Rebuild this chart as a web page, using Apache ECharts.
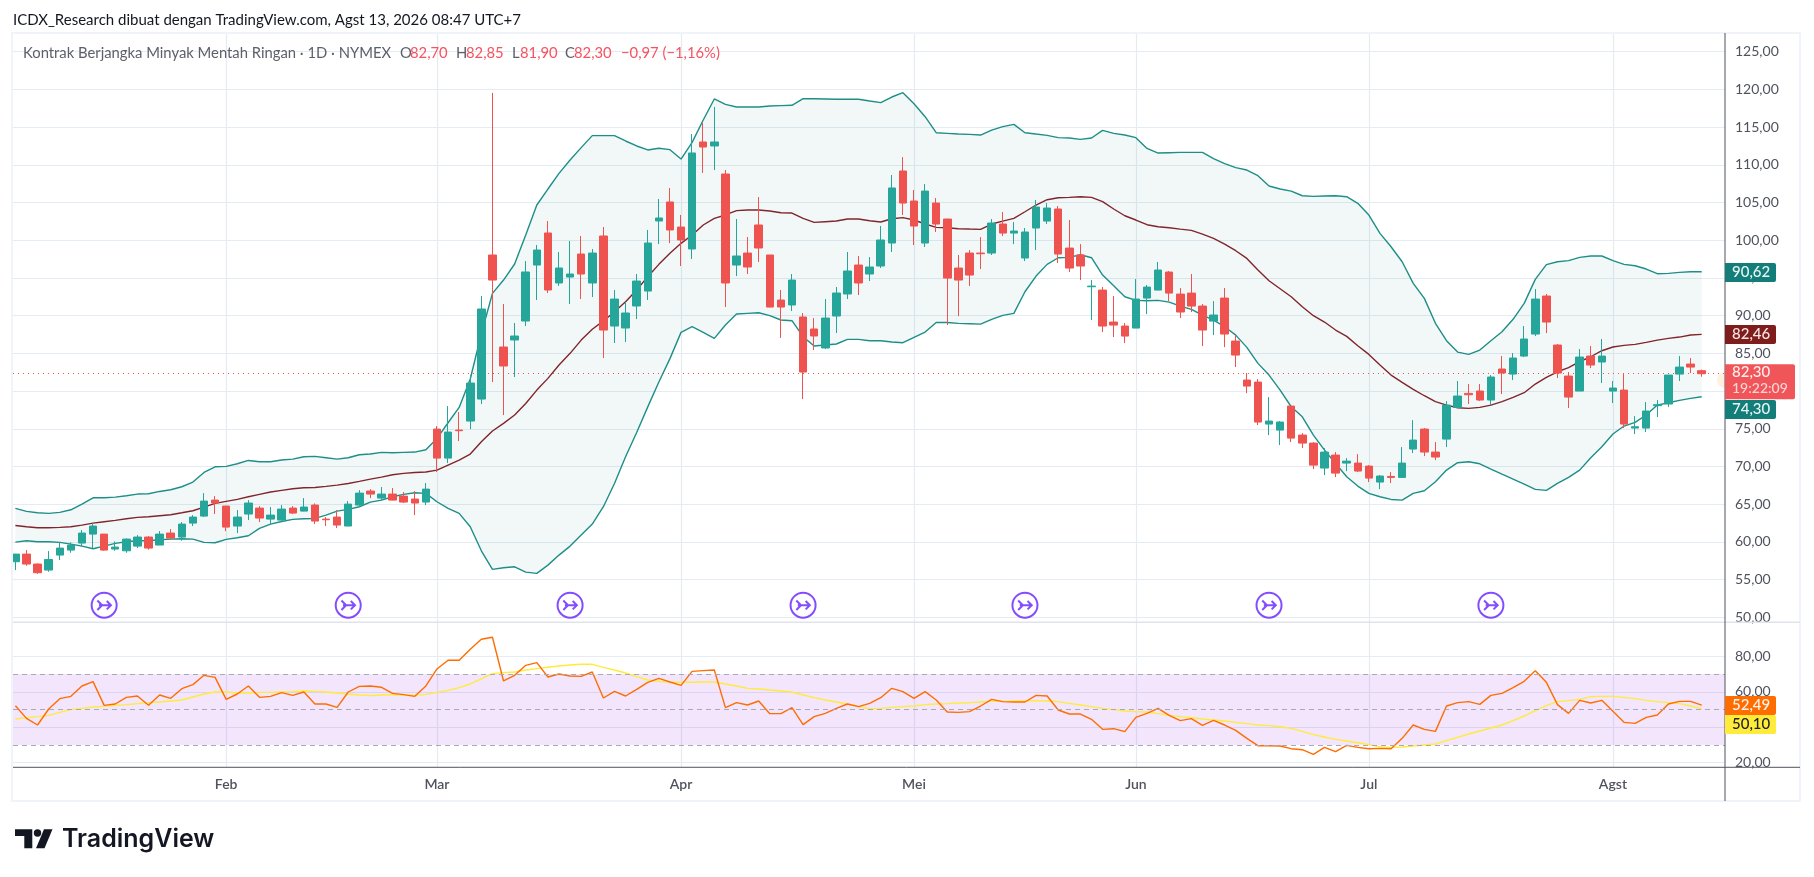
<!DOCTYPE html>
<html><head><meta charset="utf-8"><title>Kontrak Berjangka Minyak Mentah Ringan</title>
<script src="https://cdn.jsdelivr.net/npm/echarts@6/dist/echarts.min.js"></script>
<style>html,body{margin:0;padding:0;background:#fff}#c{width:1814px;height:877px}</style></head>
<body><div id="c"></div>
<script>
const opens=[57.37,58.38,57.06,56.26,58.25,58.91,59.84,61.03,61.03,59.05,
58.82,59.44,60.64,59.58,61.17,60.64,62.49,63.42,65.54,64.75,
62.10,63.69,64.48,63.02,62.89,64.48,64.08,64.88,63.02,63.29,
62.10,64.88,66.74,65.81,66.34,66.07,65.68,65.28,74.96,71.11,
74.83,76.02,78.94,98.04,85.84,86.77,89.29,96.71,100.96,94.33,
95.12,98.17,94.33,100.56,88.62,88.36,91.28,93.26,102.55,105.07,
101.75,98.84,113.03,112.50,108.78,96.71,98.30,102.02,98.04,92.07,
91.41,89.82,88.23,85.71,89.95,92.87,96.71,95.52,96.58,99.63,
109.18,105.20,99.63,104.93,102.81,96.31,98.30,98.30,98.30,102.15,
100.95,97.64,101.62,102.54,104.14,98.96,98.04,93.83,93.39,89.15,
88.62,88.35,92.33,93.39,95.78,92.86,92.99,91.27,89.28,92.33,
86.63,81.46,81.19,75.62,74.82,78.01,74.16,73.10,69.79,71.51,
70.45,70.45,70.05,67.93,68.68,68.55,72.31,74.96,71.91,73.63,
77.83,79.69,80.00,78.81,82.92,82.25,84.64,87.56,92.60,86.10,
81.99,80.00,84.64,83.85,80.00,80.13,75.09,75.09,78.06,78.28,
82.25,83.58,82.70];
const highs=[58.38,58.91,57.14,58.78,59.89,59.93,61.57,62.45,61.05,60.06,
60.46,60.90,60.77,61.43,61.70,62.63,63.55,66.47,66.07,64.78,
64.22,65.54,64.75,64.62,64.88,64.75,65.81,65.10,63.29,64.22,
65.41,66.87,67.00,67.27,67.14,66.61,66.74,67.80,75.36,78.01,
77.22,82.13,92.60,119.53,91.54,89.02,97.24,99.37,102.55,98.44,
99.90,100.56,98.84,101.75,93.40,91.81,95.52,101.36,105.47,106.93,
103.35,114.09,115.55,117.67,109.31,102.81,100.43,105.73,98.04,93.40,
95.52,90.35,89.68,92.20,93.80,98.44,97.91,97.77,101.89,108.65,
111.03,106.66,107.45,105.59,102.85,98.04,98.70,100.42,102.81,103.74,
102.41,101.62,105.33,104.93,104.53,102.68,99.49,94.72,93.79,92.60,
89.02,94.85,94.06,97.11,95.91,93.66,95.52,91.54,91.93,93.66,
87.42,82.39,81.59,79.20,76.02,78.01,74.43,73.23,72.44,71.91,
71.11,71.64,70.18,68.86,69.26,72.57,76.15,75.09,73.24,78.67,
81.33,80.93,80.93,82.12,84.64,85.04,88.62,93.53,92.87,86.23,
82.52,85.57,85.97,86.90,81.33,82.39,76.68,78.54,78.81,82.12,
84.64,84.38,82.85];
const lows=[56.26,56.83,55.77,56.04,57.59,58.56,59.44,59.13,58.82,58.82,
58.56,59.18,58.96,59.58,60.37,60.15,62.10,63.29,63.69,61.43,
61.17,62.89,62.63,62.36,62.63,63.69,64.05,62.36,62.10,61.83,
62.10,64.62,65.81,65.54,65.50,65.15,63.55,64.88,69.26,70.45,
73.37,74.96,78.28,81.20,76.82,81.86,88.62,92.07,93.00,93.93,
91.54,92.20,92.47,84.38,86.37,86.50,89.55,92.07,99.50,99.63,
96.58,97.51,108.92,109.31,91.14,95.25,95.52,97.11,91.14,87.03,
90.61,78.94,85.44,85.57,87.70,92.20,92.73,94.59,96.32,98.44,
103.34,99.36,99.10,101.09,88.75,89.94,93.92,96.18,98.04,100.55,
99.49,97.24,98.70,102.15,96.97,95.78,94.72,89.41,87.82,87.16,
86.36,88.35,90.21,93.39,91.93,89.68,90.48,85.97,87.42,85.83,
83.18,79.73,75.49,74.16,72.84,73.23,72.44,69.65,68.86,68.59,
69.39,69.25,67.93,67.00,67.80,68.55,71.78,71.38,70.85,72.57,
77.83,78.28,78.67,78.14,79.60,81.46,84.51,87.29,87.69,81.72,
77.75,80.00,83.05,81.06,78.41,75.09,74.30,74.56,76.55,77.88,
81.33,82.39,81.90];
const closes=[58.38,57.06,55.91,57.67,59.18,59.58,61.17,62.10,58.91,59.31,
60.37,60.64,59.18,61.03,60.50,62.36,63.29,65.41,65.15,61.96,
63.29,65.15,63.16,63.55,64.35,63.82,64.62,62.76,62.94,62.23,
65.01,66.47,66.34,66.34,65.54,65.28,65.15,67.00,71.11,74.56,
74.74,81.06,90.88,94.72,83.32,87.30,95.79,98.70,93.40,96.32,
95.52,95.52,98.30,88.09,92.20,90.35,94.59,99.63,102.95,101.36,
100.03,111.57,112.36,113.03,94.33,97.91,96.45,98.97,91.14,91.14,
94.72,82.52,87.30,89.68,93.00,95.92,94.33,96.45,100.03,106.93,
104.93,101.88,106.52,102.15,94.98,94.72,95.38,98.21,102.28,100.95,
101.22,101.09,104.40,104.27,98.17,96.31,96.58,93.92,88.62,88.75,
87.29,92.20,93.79,96.05,92.99,90.48,91.27,88.09,90.08,87.56,
84.77,80.66,75.89,76.02,75.89,73.76,73.10,70.18,71.91,69.12,
70.71,69.39,68.46,68.73,68.55,70.45,73.50,71.91,71.25,78.14,
79.34,79.51,78.81,81.86,82.39,84.38,86.90,92.20,89.15,82.39,
79.20,84.51,83.45,84.64,80.40,75.62,75.27,77.35,78.19,82.12,
83.18,83.18,82.30];
const bbUpper=[64.44,64.04,63.86,63.78,63.91,64.26,65.01,65.85,65.85,65.94,
66.12,66.34,66.38,66.69,66.91,67.31,67.93,69.21,69.96,70.01,
70.36,70.80,70.63,70.63,70.85,70.98,71.29,71.34,71.16,70.98,
71.16,71.56,71.65,71.87,71.82,71.87,71.91,72.22,73.72,75.80,
77.83,81.60,87.60,92.96,94.72,96.85,100.69,104.67,106.79,108.87,
110.64,112.28,113.87,113.87,113.87,113.16,112.50,111.97,112.19,112.01,
110.77,112.98,115.94,118.73,118.02,117.67,117.67,117.67,117.80,117.85,
117.89,118.77,118.77,118.73,118.69,118.69,118.69,118.46,118.24,118.99,
119.57,118.10,116.38,114.26,114.17,114.08,114.04,113.95,114.61,115.06,
115.37,114.26,114.08,113.91,113.60,113.55,113.38,113.55,114.57,114.17,
113.95,113.60,112.18,111.56,111.61,111.65,111.65,111.65,110.81,110.15,
109.62,109.31,108.56,107.19,106.79,106.52,105.90,105.82,105.86,105.90,
105.77,104.89,103.34,100.91,99.14,97.15,94.28,92.29,88.98,86.68,
85.17,84.86,85.44,86.68,87.87,89.51,91.63,94.81,96.76,97.15,
97.29,97.73,97.91,97.91,97.29,96.80,96.62,96.18,95.56,95.61,
95.74,95.83,95.83];
const bbBasis=[62.18,62.01,61.87,61.87,61.92,62.01,62.23,62.49,62.67,62.85,
63.07,63.25,63.33,63.47,63.60,63.86,64.13,64.62,65.10,65.37,
65.63,65.99,66.30,66.61,66.83,67.05,67.18,67.22,67.36,67.53,
67.75,68.02,68.33,68.59,68.90,69.08,69.21,69.26,69.52,70.19,
70.85,71.65,73.28,74.70,75.71,76.82,78.36,80.13,81.68,83.45,
85.00,86.76,88.20,89.30,90.52,91.85,93.40,95.17,96.80,98.26,
99.59,100.69,102.02,102.90,103.35,103.92,104.01,104.01,103.88,103.65,
103.61,102.90,102.37,102.46,102.55,102.81,102.81,102.59,102.42,102.85,
103.00,102.68,102.15,101.70,101.66,101.53,101.48,101.44,102.15,102.54,
102.90,103.78,104.67,105.37,105.64,105.68,105.77,105.68,105.11,104.14,
103.25,102.68,102.06,101.79,101.66,101.48,101.31,100.82,100.25,99.49,
98.61,97.59,96.05,94.63,93.57,92.51,91.18,89.99,89.15,88.09,
87.25,86.01,84.86,83.45,82.12,81.15,80.22,79.38,78.59,78.14,
77.79,77.70,77.83,78.14,78.59,79.16,79.78,80.93,81.81,82.56,
83.10,83.89,84.55,85.35,85.84,86.06,86.19,86.46,86.76,86.99,
87.16,87.43,87.52];
const bbLower=[59.97,60.15,60.02,60.02,59.93,59.71,59.44,59.09,59.44,59.80,
60.02,60.15,60.15,60.28,60.37,60.42,60.37,59.93,59.89,60.33,
60.55,60.81,61.79,62.36,62.71,62.98,63.07,63.11,63.55,64.08,
64.31,64.66,65.28,65.54,65.99,66.30,66.52,66.43,65.32,64.44,
63.78,62.01,58.82,56.35,56.57,56.70,55.99,55.82,56.92,58.25,
59.44,60.90,62.36,64.66,67.75,71.30,74.50,77.90,81.20,84.30,
87.78,88.53,87.78,86.99,88.76,90.21,90.30,90.39,90.00,89.42,
89.33,87.21,85.97,86.10,86.24,86.85,86.85,86.68,86.68,86.50,
86.41,87.12,87.82,89.10,89.10,88.97,88.93,88.88,89.50,90.03,
90.30,93.17,95.25,96.80,97.68,97.73,98.08,97.68,95.38,93.97,
92.51,92.02,91.98,92.02,91.80,91.27,90.83,90.08,89.41,88.53,
87.42,85.79,83.67,82.12,80.13,77.92,76.59,74.16,72.17,70.40,
68.63,67.40,66.43,65.99,65.63,65.54,66.43,66.78,67.98,69.52,
70.50,70.63,70.36,69.66,68.99,68.33,67.67,66.96,66.83,67.75,
68.55,69.52,71.16,72.62,74.30,75.36,75.84,76.82,78.14,78.45,
78.76,79.03,79.25];
const rsi=[52.16,45.01,41.25,50.28,56.11,57.43,63.26,65.70,52.35,53.10,
56.86,57.62,52.35,58.18,56.30,61.75,64.01,69.28,68.15,55.73,
58.74,63.26,56.86,57.43,59.50,57.99,59.87,53.10,53.10,51.22,
59.87,63.07,63.26,62.51,59.12,58.37,57.43,63.26,72.85,77.74,
77.74,83.95,89.59,90.72,66.08,69.28,74.92,76.42,68.34,70.03,
68.90,68.71,71.16,56.49,60.25,57.62,61.38,65.33,67.58,65.51,
63.63,71.53,71.91,72.29,51.03,53.85,52.54,54.79,47.65,47.65,
51.03,41.44,45.95,47.84,50.66,53.10,51.60,53.48,56.67,61.94,
60.06,56.30,60.06,55.36,48.59,48.40,48.78,51.97,55.73,54.42,
54.23,54.23,57.99,57.62,49.72,47.46,47.46,44.45,38.81,39.18,
37.49,45.58,47.84,50.66,46.71,43.70,44.83,41.06,43.89,41.25,
38.24,33.73,29.59,29.59,29.40,27.90,27.33,24.70,28.65,26.21,
29.78,28.65,27.90,28.09,27.90,33.73,41.25,38.81,37.68,51.97,
53.85,54.42,52.91,57.99,59.12,62.32,65.89,71.91,65.33,52.73,
47.84,55.17,53.67,55.17,48.96,42.76,42.19,45.58,46.89,53.10,
54.61,54.61,52.49];
const rsiMa=[44.64,45.39,45.96,46.71,48.40,49.90,50.66,51.41,51.79,52.35,
52.73,53.29,53.85,54.23,54.79,55.36,57.05,58.74,59.87,59.87,
59.31,59.31,59.68,59.68,59.87,60.06,60.44,60.25,59.87,59.31,
58.74,58.18,57.80,58.18,58.37,58.18,57.99,58.56,59.68,60.81,
62.32,64.39,67.21,70.22,70.78,71.16,72.29,73.04,73.79,74.54,
75.11,75.48,75.48,73.79,72.29,70.59,68.52,66.64,65.89,65.33,
65.33,65.33,65.51,65.51,64.39,63.26,61.94,61.56,61.00,60.44,
59.87,58.18,56.67,55.36,54.23,53.10,51.79,50.28,50.66,51.22,
51.60,51.97,52.73,53.10,53.29,53.67,53.85,54.23,54.61,54.61,
54.79,54.79,54.98,54.79,54.42,53.48,52.54,51.60,50.66,49.90,
49.15,48.78,48.59,47.65,46.71,45.96,45.39,44.64,44.07,43.51,
42.76,42.01,41.25,40.88,40.31,39.37,37.68,35.80,34.48,33.17,
32.23,31.28,30.16,29.03,28.65,28.84,29.40,29.97,30.53,32.41,
34.29,36.17,37.87,39.56,41.25,43.70,46.33,49.34,52.16,54.42,
54.98,55.74,57.24,57.43,57.43,56.86,56.11,55.17,54.42,53.85,
53.29,51.97,50.47];
const monthNames=['Feb','Mar','Apr','Mei','Jun','Jul','Agst'];
const monthBars=[19,38,60,81,101,122,144];
const eventBars=[8,30,50,71,91,113,133];
const eventLevel=51.6;
const lastPrice=82.30;
const rsiLevels=[70,50,30];
const slots=155;
const categories=Array.from({length:slots},(_,i)=>String(i));

const FONT='Lato';
const GRID='#e4ebf2', TEXT='#50535e', AXIS='#50535e';
const BAR=11.094, X0=15.4, LEFT=13, RIGHT=1725;
const monthOf=i=>monthBars.indexOf(i);
const comma=v=>v.toFixed(2).replace('.',',');
const frameX=()=>({type:'value',min:0,max:1,show:false});
const dataX=g=>({type:'category',gridIndex:g,data:categories,show:false});
const hiddenY=(g,min,max)=>({type:'value',gridIndex:g,min,max,show:false,splitLine:{show:false}});
const flat=(s)=>({symbol:'none',silent:true,animation:false,...s});

const chart=echarts.init(document.getElementById('c'),null,{renderer:'canvas'});

function tag(x,y,w,h,fill,txt,col){
  return [{type:'rect',z:60,shape:{x,y,width:w,height:h,r:[0,2,2,0]},style:{fill}},
   {type:'text',z:61,x:x+7,y:y+h/2,style:{text:txt,fill:col,font:'500 15px '+FONT,textVerticalAlign:'middle'}}];
}
const legendGrey='#5d606b', legendRed='#f7525f';
const legendBits=[[23,'Kontrak Berjangka Minyak Mentah Ringan · 1D · NYMEX',legendGrey],
 [400,'O',legendGrey],[410,'82,70',legendRed],[456,'H',legendGrey],[466,'82,85',legendRed],
 [512,'L',legendGrey],[520,'81,90',legendRed],[565,'C',legendGrey],[574,'82,30',legendRed],
 [621,'−0,97 (−1,16%)',legendRed]];
const INK='#131722';
const graphic=[
 {type:'circle',z:40,shape:{cx:1725,cy:380,r:8},style:{fill:'rgba(255,170,70,.16)'}},
 {type:'rect',z:50,shape:{x:8,y:33,width:4,height:768},style:{fill:'#fff'}},
 {type:'rect',z:51,shape:{x:12,y:33,width:1788,height:768},style:{fill:'none',stroke:'#f0f3fa',lineWidth:2}},
 {type:'line',z:52,shape:{x1:LEFT,y1:622.3,x2:1800,y2:622.3},style:{stroke:'#e0e3eb',lineWidth:1.5}},
 {type:'line',z:53,shape:{x1:LEFT,y1:767.3,x2:1800,y2:767.3},style:{stroke:AXIS,lineWidth:1}},
 {type:'line',z:53,shape:{x1:RIGHT,y1:33,x2:RIGHT,y2:801},style:{stroke:AXIS,lineWidth:1}},
 {type:'text',z:55,x:13,y:20,style:{text:'ICDX_Research dibuat dengan TradingView.com, Agst 13, 2026 08:47 UTC+7',fill:INK,font:'15px '+FONT,textVerticalAlign:'middle'}},
 ...legendBits.map(b=>({type:'text',z:55,x:b[0],y:53.5,style:{text:b[1],fill:b[2],font:'14.8px '+FONT,textVerticalAlign:'middle'}})),
 ...tag(RIGHT,263,51,19,'#127d79','90,62','#e8f5f4'),
 ...tag(RIGHT,325,51,19,'#7f1d1d','82,46','#f6e6e6'),
 {type:'rect',z:60,shape:{x:RIGHT,y:364.3,width:70,height:35,r:[0,2,2,0]},style:{fill:'#f0555a'}},
 {type:'text',z:61,x:RIGHT+7,y:372.5,style:{text:'82,30',fill:'#ffeeee',font:'500 15px '+FONT,textVerticalAlign:'middle'}},
 {type:'text',z:61,x:RIGHT+7,y:388,style:{text:'19:22:09',fill:'#fbd5d6',font:'500 14px '+FONT,textVerticalAlign:'middle'}},
 ...tag(RIGHT,400,51,19,'#127d79','74,30','#e8f5f4'),
 ...tag(RIGHT,696,51,19,'#ff6d00','52,49','#fff4ea'),
 ...tag(RIGHT,715,51,19,'#ffeb3b','50,10','#222'),
 {type:'polygon',z:55,shape:{points:[[15,829.3],[32.3,829.3],[32.3,848.3],[24.3,848.3],[24.3,836],[15,836]]},style:{fill:INK}},
 {type:'circle',z:55,shape:{cx:37.5,cy:833,r:3.7},style:{fill:INK}},
 {type:'polygon',z:55,shape:{points:[[44,829.3],[52.5,829.3],[44.5,848.3],[36,848.3]]},style:{fill:INK}},
 {type:'text',z:55,x:62,y:839,style:{text:'TradingView',fill:INK,font:'600 25px Inter',textVerticalAlign:'middle'}}
];

chart.setOption({
 animation:false,
 backgroundColor:'#fff',
 graphic,
 grid:[
  {left:LEFT,top:51.7,width:RIGHT-LEFT,height:565.6},
  {left:X0-BAR/2,top:51.7,width:BAR*slots,height:565.6},
  {left:LEFT,top:620.84,width:RIGHT-LEFT,height:141.86},
  {left:X0-BAR/2,top:620.84,width:BAR*slots,height:141.86},
  {left:X0,top:33.3,width:BAR*(slots-1),height:733.7}
 ],
 xAxis:[
  {...frameX(),gridIndex:0},
  dataX(1),
  {...frameX(),gridIndex:2},
  dataX(3),
  {type:'category',gridIndex:4,data:categories,boundaryGap:false,
   axisLine:{show:false},axisTick:{show:false},
   splitLine:{show:true,interval:(i)=>monthOf(i)>=0,lineStyle:{color:GRID,width:1.2}},
   axisLabel:{show:true,interval:(i)=>monthOf(i)>=0,margin:10,hideOverlap:false,color:TEXT,fontFamily:FONT,fontSize:14,fontWeight:600,
     formatter:(v,i)=>monthOf(i)>=0?monthNames[monthOf(i)]:''}}
 ],
 yAxis:[
  {type:'value',gridIndex:0,position:'right',min:50,max:125,interval:5,
   axisLine:{show:false},axisTick:{show:false},
   splitLine:{lineStyle:{color:GRID,width:1.2}},
   axisLabel:{color:TEXT,fontFamily:FONT,fontSize:14,margin:10,padding:[0,0,3,0],formatter:comma}},
  hiddenY(1,50,125),
  {type:'value',gridIndex:2,position:'right',min:20,max:100,interval:20,
   axisLine:{show:false},axisTick:{show:false},
   splitLine:{showMaxLine:false,lineStyle:{color:GRID,width:1.2}},
   axisLabel:{showMaxLabel:false,color:TEXT,fontFamily:FONT,fontSize:14,margin:10,padding:[0,0,3,0],formatter:comma}},
  hiddenY(3,20,100),
  hiddenY(4,0,1)
 ],
 series:[
  flat({type:'line',xAxisIndex:4,yAxisIndex:4,data:[],z:1}),
  flat({type:'line',xAxisIndex:0,yAxisIndex:0,data:[],z:4,
    markLine:{silent:true,symbol:'none',label:{show:false},animation:false,
      lineStyle:{color:'#ef5350',type:[1,4],width:1},data:[{yAxis:lastPrice}]}}),
  flat({type:'line',xAxisIndex:2,yAxisIndex:2,data:[],z:1,
    markArea:{silent:true,animation:false,itemStyle:{color:'rgba(155,38,230,.12)'},data:[[{yAxis:rsiLevels[0]},{yAxis:rsiLevels[2]}]]},
    markLine:{silent:true,symbol:'none',label:{show:false},animation:false,
      lineStyle:{color:'#a9a9b3',type:[5,4],width:1},data:rsiLevels.map(v=>({yAxis:v}))}}),
  flat({type:'line',xAxisIndex:1,yAxisIndex:1,stack:'bb',data:bbLower,lineStyle:{opacity:0},z:2}),
  flat({type:'line',xAxisIndex:1,yAxisIndex:1,stack:'bb',data:bbUpper.map((v,i)=>v-bbLower[i]),lineStyle:{opacity:0},
    areaStyle:{color:'rgba(40,130,130,.06)',opacity:1},z:2}),
  flat({type:'line',name:'Upper',xAxisIndex:1,yAxisIndex:1,data:bbUpper,lineStyle:{color:'#1d8e88',width:1.4},z:3}),
  flat({type:'line',name:'Lower',xAxisIndex:1,yAxisIndex:1,data:bbLower,lineStyle:{color:'#1d8e88',width:1.4},z:3}),
  flat({type:'line',name:'Basis',xAxisIndex:1,yAxisIndex:1,data:bbBasis,lineStyle:{color:'#80252b',width:1.4},z:3}),
  {type:'candlestick',xAxisIndex:1,yAxisIndex:1,silent:true,animation:false,barWidth:8,z:5,
   itemStyle:{color:'#26a69a',color0:'#ef5350',borderColor:'#26a69a',borderColor0:'#ef5350',borderWidth:1},
   data:opens.map((o,i)=>[o,closes[i],lows[i],highs[i]])},
  {type:'scatter',xAxisIndex:1,yAxisIndex:1,silent:true,animation:false,z:6,symbolSize:25,
   symbol:'path://M13 1a12 12 0 1 0 .01 0Z M6.5 8.5L11 13L6.5 17.5 M8 13H19.5 M15.5 9L19.5 13L15.5 17',
   itemStyle:{color:'none',borderColor:'#651fff',borderWidth:2},
   data:eventBars.map(i=>[i,eventLevel])},
  flat({type:'line',name:'RSI MA',xAxisIndex:3,yAxisIndex:3,data:rsiMa,lineStyle:{color:'#ffeb3b',width:1.4},z:3}),
  flat({type:'line',name:'RSI',xAxisIndex:3,yAxisIndex:3,data:rsi,lineStyle:{color:'#ff6d00',width:1.4},z:3})
 ]
});
</script></body></html>
